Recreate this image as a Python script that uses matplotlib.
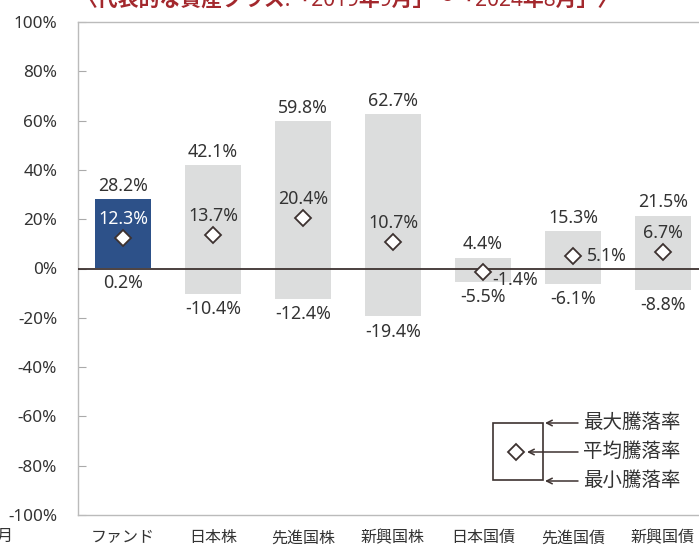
import numpy as np
import matplotlib.pyplot as plt
from matplotlib.patches import Rectangle
from matplotlib.lines import Line2D

plt.rcParams['font.family'] = ['Noto Sans', 'Noto Sans CJK JP', 'DejaVu Sans']

categories = ["ファンド", "日本株", "先進国株", "新興国株", "日本国債", "先進国債", "新興国債"]
max_vals = [28.2, 42.1, 59.8, 62.7, 4.4, 15.3, 21.5]
avg_vals = [12.3, 13.7, 20.4, 10.7, -1.4, 5.1, 6.7]
min_vals = [0.2, -10.4, -12.4, -19.4, -5.5, -6.1, -8.8]
yticks = [100, 80, 60, 40, 20, 0, -20, -40, -60, -80, -100]

W, H = 699, 547
TXT = "#333333"
fig = plt.figure(figsize=(W / 100, H / 100), dpi=100)
ax = fig.add_axes([78 / W, 32 / H, 630 / W, 493 / H])

x = np.arange(len(categories))
colors = ["#2d5189"] + ["#dcdddd"] * (len(categories) - 1)
heights = np.array(max_vals) - np.array(min_vals)
ax.bar(x, heights, bottom=min_vals, width=0.63, color=colors, zorder=2)
ax.axhline(0, color="#3d3230", lw=1.3, zorder=3)
ax.plot(x, avg_vals, "D", ms=8, mfc="white", mec="#3d3230", mew=1.3, ls="none", zorder=4)

for i in range(len(categories)):
    ax.annotate(f"{max_vals[i]}%", (x[i], max_vals[i]), xytext=(0, 3), textcoords="offset points",
                ha="center", va="bottom", fontsize=12.8, color=TXT)
    ax.annotate(f"{min_vals[i]}%", (x[i], min_vals[i]), xytext=(0, -4.5), textcoords="offset points",
                ha="center", va="top", fontsize=12.8, color=TXT)
    if categories[i] == "日本国債":
        ax.annotate(f"{avg_vals[i]}%", (x[i], avg_vals[i]), xytext=(7, -5.5), textcoords="offset points",
                    ha="left", va="center", fontsize=12.8, color=TXT, zorder=5)
    elif categories[i] == "先進国債":
        ax.annotate(f"{avg_vals[i]}%", (x[i], avg_vals[i]), xytext=(10, 0), textcoords="offset points",
                    ha="left", va="center", fontsize=12.8, color=TXT)
    else:
        c = "white" if i == 0 else TXT
        ax.annotate(f"{avg_vals[i]}%", (x[i], avg_vals[i]), xytext=(0, 7), textcoords="offset points",
                    ha="center", va="bottom", fontsize=12.8, color=c)

ax.set_xlim(-0.5, len(categories) - 0.5)
ax.set_ylim(-100, 100)
ax.set_yticks(yticks)
ax.set_yticklabels([f"{v}%" for v in yticks], fontsize=12.3, color=TXT)
ax.set_xticks(x)
ax.set_xticklabels(categories, fontsize=11.5, color=TXT)
ax.tick_params(axis="y", direction="in", length=6, color="#aaaaaa", pad=15)
ax.tick_params(axis="x", length=0, pad=11)
for s in ax.spines.values():
    s.set_color("#bbbbbb")
    s.set_linewidth(1)

# legend drawn in figure pixels
fig.add_artist(Rectangle((493 / W, 1 - 480 / H), 50 / W, 57 / H, transform=fig.transFigure,
                         fill=False, ec="#3d3230", lw=1.2))
fig.add_artist(Line2D([516 / W], [1 - 452 / H], marker="D", ms=8, mfc="white", mec="#3d3230",
                      mew=1.3, transform=fig.transFigure))
for yy, end, lab in [(423, 545, "最大騰落率"), (452, 527, "平均騰落率"), (481, 545, "最小騰落率")]:
    fig.text(583 / W, 1 - yy / H, lab, ha="left", va="center", fontsize=14, color=TXT)
    ax.annotate("", xy=(end, H - yy), xytext=(578, H - yy), xycoords="figure pixels",
                textcoords="figure pixels",
                arrowprops=dict(arrowstyle="->", color="#3d3230", lw=1.1, shrinkA=0, shrinkB=0))

# cropped title and note
fig.text(347 / W, 1 - 6 / H, "〈代表的な資産クラス:「2019年9月」～「2024年8月」〉", ha="center",
         va="baseline", fontsize=15, fontweight="bold", color="#a3282d")
fig.text(13 / W, 1 - 537 / H, "年8月", ha="right", va="center", fontsize=11.5, color=TXT)

fig.savefig("out.png", dpi=100)
